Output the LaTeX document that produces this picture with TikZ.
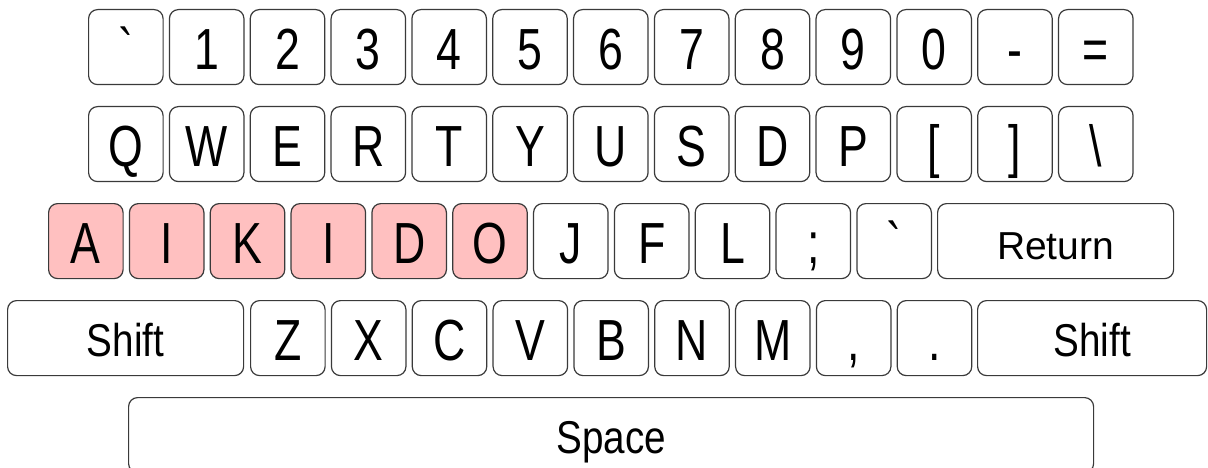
\documentclass[tikz,border=0pt]{standalone}
\usepackage{fontspec}
\setmainfont{Liberation Sans}
\usepackage{graphicx}
\definecolor{keypink}{HTML}{FFC0C0}
\definecolor{keyline}{HTML}{3A3A3A}
\tikzset{
  keycap/.style={draw=keyline, line width=1.2pt, rounded corners=9pt, fill=white,
    minimum height=75pt, minimum width=74.5pt, inner sep=0pt, text height=44pt, text depth=0pt,
    font=\fontsize{58}{60}\selectfont, anchor=north west},
  pinkkey/.style={keycap, fill=keypink},
  widekey/.style={keycap, text height=36pt, font=\fontsize{46}{48}\selectfont},
  retkey/.style={keycap, text height=36pt, font=\fontsize{39}{41}\selectfont},
}
\newcommand{\nar}[1]{\scalebox{0.77}[1]{#1}}
\newcommand{\wnar}[1]{\scalebox{0.84}[1]{#1}}
\newcommand{\bq}{\XeTeXglyph\XeTeXcharglyph"60\relax}
\begin{document}
\begin{tikzpicture}[x=1pt,y=-1pt]
\useasboundingbox (0,0) rectangle (1208,468);
% row 1
\foreach \l [count=\i from 0] in {\bq,1,2,3,4,5,6,7,8,9,0,-,=}
  \node[keycap] (ra\i) at ({88+80.83*\i},9) {\nar{\l}};
% row 2
\foreach \l [count=\i from 0] in {Q,W,E,R,T,Y,U,S,D,P,[,],\char92}
  \node[keycap] (rb\i) at ({88+80.83*\i},106) {\nar{\l}};
% row 3
\foreach \l [count=\i from 0] in {A,I,K,I,D,O}
  \node[pinkkey] (rc\i) at ({48+80.83*\i},203) {\nar{\l}};
\foreach \l [count=\i from 6] in {J,F,L,;,\bq}
  \node[keycap] (rc\i) at ({48+80.83*\i},203) {\nar{\l}};
\node[retkey, minimum width=236pt] (return) at (937,203) {Return\hspace{10pt}};
% row 4
\node[widekey, minimum width=236pt] (lshift) at (7,300) {\wnar{Shift}\hspace{18pt}};
\foreach \l [count=\i from 0] in {Z,X,C,V,B,N,M,{,},.}
  \node[keycap] (rd\i) at ({250+80.83*\i},300) {\nar{\l}};
\node[widekey, minimum width=229pt] (rshift) at (977,300) {\wnar{Shift}\hspace{12pt}};
% row 5
\node[widekey, minimum width=965pt] (space) at (128,397) {\wnar{Space}\hspace{6pt}};
\end{tikzpicture}
\end{document}
